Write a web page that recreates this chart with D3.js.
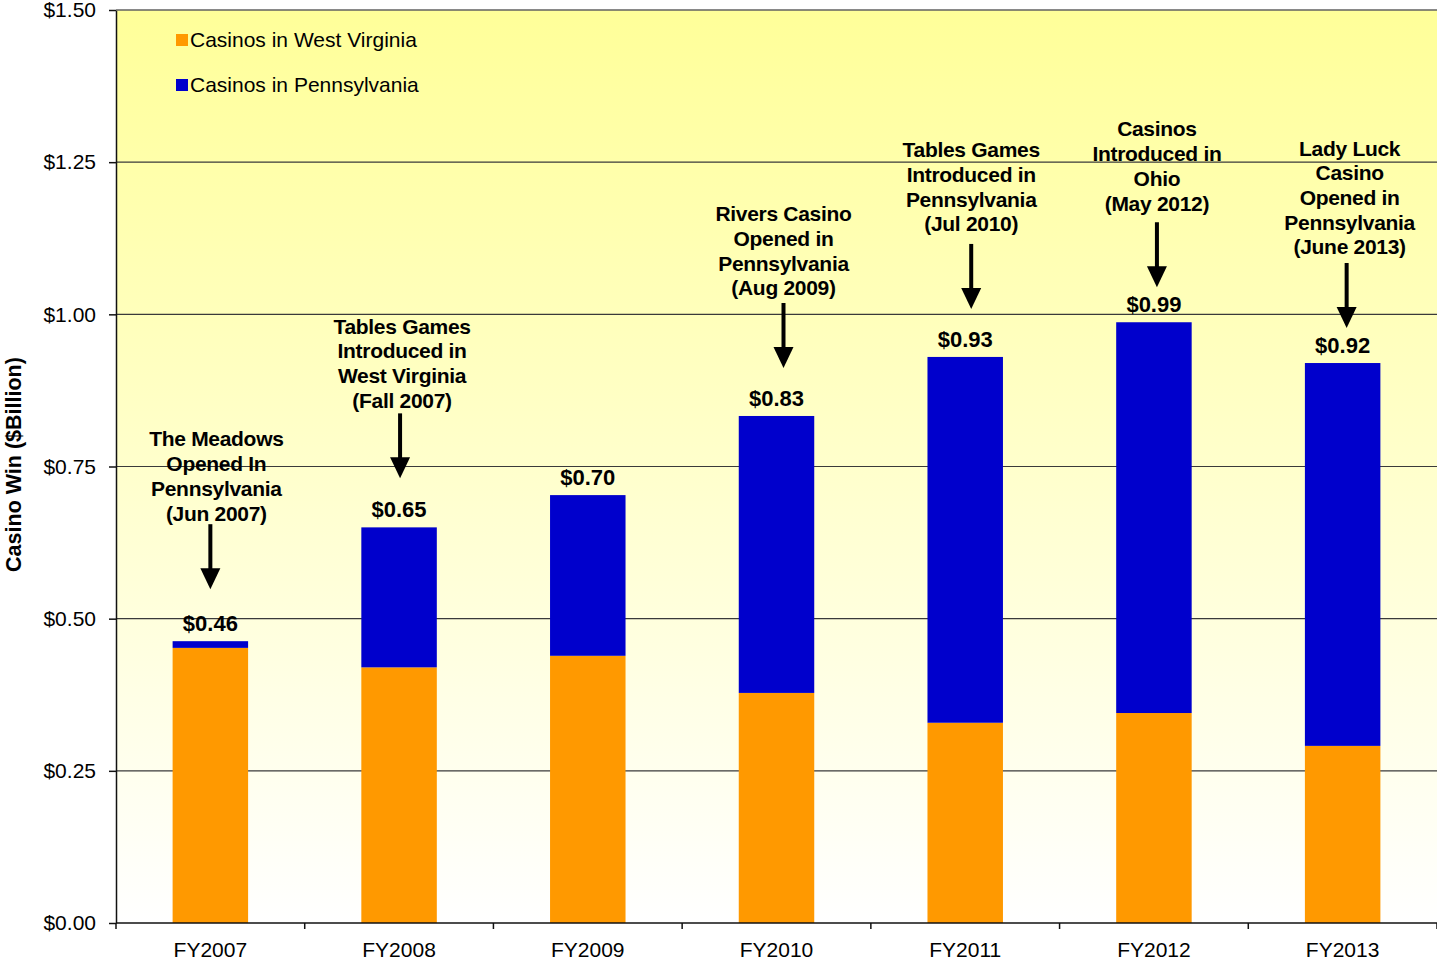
<!DOCTYPE html>
<html>
<head>
<meta charset="utf-8">
<script src="https://cdn.jsdelivr.net/npm/d3@7"></script>
<style>
  body { margin: 0; background: #fff; }
  text { font-family: "Liberation Sans", Arial, sans-serif; fill: #000; }
</style>
</head>
<body>
<div id="chart"></div>
<script>
// data ($ billion)
var years = ["FY2007", "FY2008", "FY2009", "FY2010", "FY2011", "FY2012", "FY2013"];
var wvWin = [0.452, 0.420, 0.439, 0.378, 0.329, 0.345, 0.291];
var paWin = [0.011, 0.230, 0.264, 0.455, 0.601, 0.642, 0.629];
var yTicks = [0, 0.25, 0.5, 0.75, 1.0, 1.25, 1.5];
var seriesNames = ["Casinos in West Virginia", "Casinos in Pennsylvania"];
var seriesColors = ["#FF9900", "#0000CC"];

var notes = [
  { year: "FY2007", lines: ["The Meadows", "Opened In", "Pennsylvania", "(Jun 2007)"] },
  { year: "FY2008", lines: ["Tables Games", "Introduced in", "West Virginia", "(Fall 2007)"] },
  { year: "FY2010", lines: ["Rivers Casino", "Opened in", "Pennsylvania", "(Aug 2009)"] },
  { year: "FY2011", lines: ["Tables Games", "Introduced in", "Pennsylvania", "(Jul 2010)"] },
  { year: "FY2012", lines: ["Casinos", "Introduced in", "Ohio", "(May 2012)"] },
  { year: "FY2013", lines: ["Lady Luck", "Casino", "Opened in", "Pennsylvania", "(June 2013)"] }
];

var width = 1437, height = 963;
var margin = { top: 10, right: 0, bottom: 40, left: 116 };
var innerW = width - margin.left - margin.right,
    innerH = height - margin.top - margin.bottom;

var svg = d3.select("#chart")
  .append("svg")
    .attr("width", width)
    .attr("height", height);

var defs = svg.append("defs");
var grad = defs.append("linearGradient")
    .attr("id", "bg")
    .attr("x1", 0).attr("y1", 0).attr("x2", 0).attr("y2", 1);
grad.append("stop").attr("offset", "0%").attr("stop-color", "#FFFF99");
grad.append("stop").attr("offset", "100%").attr("stop-color", "#FFFFFF");

var g = svg.append("g")
    .attr("transform", "translate(" + margin.left + "," + margin.top + ")");

var x = d3.scaleBand()
    .domain(years)
    .range([0, innerW])
    .paddingInner(0.6)
    .paddingOuter(0.3);

var y = d3.scaleLinear()
    .domain([0, 1.5])
    .range([innerH, 0]);

g.append("rect")
    .attr("width", innerW)
    .attr("height", innerH)
    .attr("fill", "url(#bg)");

// gridlines
g.selectAll(".grid")
    .data(yTicks.slice(1))
  .enter().append("line")
    .attr("x1", 0).attr("x2", innerW)
    .attr("y1", function(d) { return y(d); })
    .attr("y2", function(d) { return y(d); })
    .attr("stroke", "#3a3a3a")
    .attr("stroke-width", 1.2);

// stacked bars
var rows = years.map(function(yr, i) { return { year: yr, wv: wvWin[i], pa: paWin[i] }; });
var stack = d3.stack().keys(["wv", "pa"])(rows);

g.selectAll(".series")
    .data(stack)
  .enter().append("g")
    .attr("fill", function(d, i) { return seriesColors[i]; })
  .selectAll("rect")
    .data(function(d) { return d; })
  .enter().append("rect")
    .attr("x", function(d) { return x(d.data.year); })
    .attr("y", function(d) { return y(d[1]); })
    .attr("width", x.bandwidth())
    .attr("height", function(d) { return y(d[0]) - y(d[1]); });

// total labels
g.selectAll(".total")
    .data(rows)
  .enter().append("text")
    .attr("x", function(d) { return x(d.year) + x.bandwidth() / 2; })
    .attr("y", function(d) { return y(d.wv + d.pa) - 10; })
    .attr("text-anchor", "middle")
    .style("font-size", "22px")
    .style("font-weight", "bold")
    .text(function(d) { return "$" + (d.wv + d.pa).toFixed(2); });

// axes
var yAxis = g.append("g")
    .call(d3.axisLeft(y).tickValues(yTicks).tickSize(7).tickSizeOuter(0)
      .tickFormat(function(d) { return "$" + d.toFixed(2); }));
yAxis.select(".domain").attr("stroke", "#111").attr("stroke-width", 1.5);
yAxis.selectAll(".tick line").attr("stroke", "#111").attr("stroke-width", 1.5);
yAxis.selectAll(".tick text")
    .attr("x", -20)
    .style("font-size", "21px")
    .style("font-family", "'Liberation Sans', Arial, sans-serif");

var xAxis = g.append("g")
    .attr("transform", "translate(0," + innerH + ")");
xAxis.append("line")
    .attr("x1", 0).attr("x2", innerW)
    .attr("stroke", "#111").attr("stroke-width", 1.5);
xAxis.selectAll(".xt")
    .data(d3.range(years.length + 1))
  .enter().append("line")
    .attr("x1", function(i) { return i * innerW / years.length; })
    .attr("x2", function(i) { return i * innerW / years.length; })
    .attr("y1", 0).attr("y2", 6)
    .attr("stroke", "#111").attr("stroke-width", 1.5);
xAxis.selectAll(".xl")
    .data(years)
  .enter().append("text")
    .attr("x", function(d) { return x(d) + x.bandwidth() / 2; })
    .attr("y", 34)
    .attr("text-anchor", "middle")
    .style("font-size", "21px")
    .text(function(d) { return d; });

// top border
g.append("line")
    .attr("x1", 0).attr("x2", innerW)
    .attr("y1", 0).attr("y2", 0)
    .attr("stroke", "#777").attr("stroke-width", 1);

// y title
svg.append("text")
    .attr("transform", "translate(21," + (margin.top + innerH / 2 - 2) + ") rotate(-90)")
    .attr("text-anchor", "middle")
    .style("font-size", "21.5px")
    .style("font-weight", "bold")
    .text("Casino Win ($Billion)");

// legend
var legend = g.selectAll(".legend")
    .data(seriesNames)
  .enter().append("g")
    .attr("transform", function(d, i) { return "translate(60," + (24 + i * 45) + ")"; });
legend.append("rect")
    .attr("width", 12).attr("height", 12)
    .attr("fill", function(d, i) { return seriesColors[i]; });
legend.append("text")
    .attr("x", 14).attr("y", 13)
    .style("font-size", "21px")
    .text(function(d) { return d; });

// annotations with arrows
var noteLayout = {
  FY2007: { dx: 0, tdx: 6, gap: 52, tgap: 11 },
  FY2008: { dx: 1, tdx: 3, gap: 49, tgap: 13 },
  FY2010: { dx: 7, tdx: 7, gap: 48, tgap: 15 },
  FY2011: { dx: 6, tdx: 6, gap: 48, tgap: 20 },
  FY2012: { dx: 3, tdx: 3, gap: 35, tgap: 19 },
  FY2013: { dx: 4, tdx: 7, gap: 35, tgap: 16 }
};
var lineH = 24.7, arrowLen = 65, headW = 10, headH = 21;

notes.forEach(function(n) {
  var i = years.indexOf(n.year);
  var L = noteLayout[n.year];
  var cx = x(n.year) + x.bandwidth() / 2;
  var tipY = y(wvWin[i] + paWin[i]) - L.gap;
  var startY = tipY - arrowLen;
  var ax = cx + L.dx;
  var ng = g.append("g");
  ng.append("line")
      .attr("x1", ax).attr("x2", ax)
      .attr("y1", startY).attr("y2", tipY - headH + 2)
      .attr("stroke", "#000").attr("stroke-width", 4);
  ng.append("path")
      .attr("d", d3.line()([[ax - headW, tipY - headH], [ax + headW, tipY - headH], [ax, tipY]]) + "Z")
      .attr("fill", "#000");
  var lastC = startY - L.tgap;
  ng.selectAll("text")
      .data(n.lines)
    .enter().append("text")
      .attr("x", cx + L.tdx)
      .attr("y", function(d, k) { return lastC - (n.lines.length - 1 - k) * lineH; })
      .attr("dy", "0.35em")
      .attr("text-anchor", "middle")
      .style("font-size", "21px")
      .style("font-weight", "bold")
      .style("letter-spacing", "-0.3px")
      .text(function(d) { return d; });
});
</script>
</body>
</html>
